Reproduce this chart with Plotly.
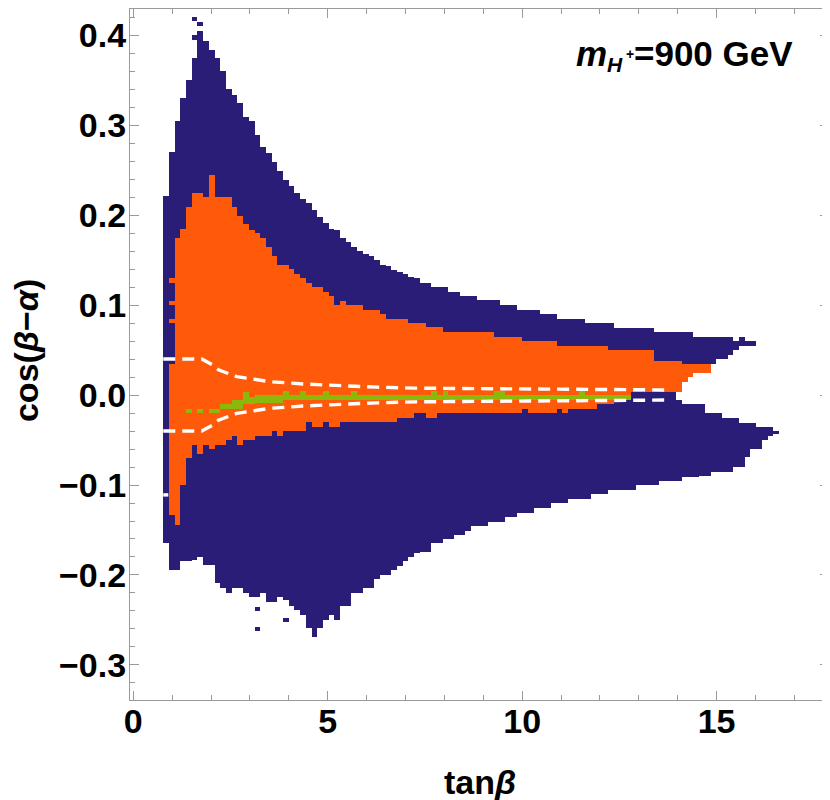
import numpy as np
import plotly.graph_objects as go

# scan grid in tan(beta): regular columns
TANB_FIRST_EDGE = 0.771
TANB_STEP = 0.1466
CELL_H = 0.0047

# navy (all points) envelope per column, 108 columns
NAVY_TOP = [
    0.221, 0.270, 0.305, 0.330, 0.350, 0.375, 0.405, 0.393, 0.383, 0.375,
    0.360, 0.340, 0.333, 0.324, 0.309, 0.304, 0.289, 0.276, 0.269, 0.259,
    0.249, 0.239, 0.232, 0.225, 0.218, 0.213, 0.206, 0.198, 0.191, 0.185,
    0.183, 0.175, 0.170, 0.165, 0.160, 0.157, 0.154, 0.150, 0.145, 0.143,
    0.139, 0.137, 0.134, 0.131, 0.130, 0.125, 0.125, 0.120, 0.120, 0.120,
    0.115, 0.115, 0.110, 0.110, 0.110, 0.106, 0.106, 0.106, 0.106, 0.100,
    0.100, 0.100, 0.095, 0.095, 0.095, 0.095, 0.090, 0.090, 0.090, 0.085,
    0.085, 0.085, 0.085, 0.085, 0.080, 0.080, 0.080, 0.080, 0.080, 0.075,
    0.075, 0.075, 0.075, 0.075, 0.075, 0.075, 0.070, 0.070, 0.070, 0.070,
    0.070, 0.070, 0.070, 0.065, 0.065, 0.065, 0.065, 0.065, 0.065, 0.065,
    0.060, 0.065, 0.060, 0.060, -0.035, -0.035, -0.035, -0.040,
]
NAVY_BOTTOM = [
    -0.165, -0.194, -0.194, -0.185, -0.184, -0.183, -0.180, -0.189, -0.189, -0.209,
    -0.215, -0.220, -0.215, -0.215, -0.220, -0.224, -0.224, -0.220, -0.230, -0.230,
    -0.224, -0.228, -0.235, -0.239, -0.245, -0.259, -0.269, -0.259, -0.250, -0.244,
    -0.250, -0.235, -0.235, -0.220, -0.220, -0.215, -0.215, -0.205, -0.200, -0.200,
    -0.194, -0.190, -0.185, -0.180, -0.176, -0.174, -0.174, -0.165, -0.165, -0.160,
    -0.160, -0.156, -0.156, -0.151, -0.146, -0.146, -0.146, -0.141, -0.141, -0.141,
    -0.136, -0.136, -0.131, -0.131, -0.131, -0.126, -0.126, -0.126, -0.120, -0.120,
    -0.120, -0.116, -0.116, -0.116, -0.116, -0.110, -0.110, -0.110, -0.106, -0.106,
    -0.106, -0.106, -0.106, -0.100, -0.100, -0.100, -0.100, -0.095, -0.095, -0.095,
    -0.095, -0.091, -0.091, -0.091, -0.090, -0.090, -0.085, -0.085, -0.085, -0.085,
    -0.080, -0.080, -0.069, -0.060, -0.060, -0.050, -0.046, -0.043,
]
# empty wedge between the two navy lobes at large tan(beta), columns 90..103
GAP_FIRST_COL = 90
GAP_BOTTOM = [-0.006, -0.010, -0.010, -0.010, -0.010, -0.020, -0.020, -0.020,
              -0.025, -0.025, -0.025, -0.031, -0.031, -0.031]
GAP_TOP = [0.010, 0.014, 0.020, 0.025, 0.030, 0.030, 0.035, 0.040,
           0.040, 0.044, 0.050, 0.055, 0.055, 0.055]
# isolated navy cells (column, lower edge)
NAVY_SPECK_COL = [5, 5, 6, 16, 16, 21]
NAVY_SPECK_Y = [0.395, 0.4155, 0.410, -0.240, -0.262, -0.252]

# orange region, columns 1..95
ORANGE_FIRST_COL = 1
ORANGE_TOP = [
    0.035, 0.174, 0.184, 0.209, 0.225, 0.225, 0.220, 0.244, 0.220,
    0.220, 0.220, 0.209, 0.199, 0.190, 0.183, 0.180, 0.174, 0.165, 0.154,
    0.144, 0.144, 0.140, 0.134, 0.130, 0.125, 0.120, 0.120, 0.115, 0.110,
    0.100, 0.105, 0.100, 0.100, 0.100, 0.095, 0.095, 0.095, 0.090, 0.085,
    0.085, 0.085, 0.085, 0.080, 0.080, 0.080, 0.076, 0.076, 0.076, 0.070,
    0.070, 0.070, 0.070, 0.070, 0.070, 0.070, 0.070, 0.070, 0.065, 0.065,
    0.065, 0.065, 0.065, 0.060, 0.060, 0.060, 0.060, 0.060, 0.060, 0.055,
    0.055, 0.055, 0.055, 0.055, 0.055, 0.055, 0.055, 0.055, 0.050, 0.050,
    0.050, 0.050, 0.050, 0.050, 0.050, 0.050, 0.038, 0.038, 0.038, 0.038,
    0.038, 0.035, 0.035, 0.035, 0.035, 0.035,
]
ORANGE_BOTTOM = [
    -0.133, -0.144, -0.100, -0.070, -0.055, -0.065, -0.055, -0.060, -0.055,
    -0.055, -0.050, -0.046, -0.055, -0.050, -0.050, -0.046, -0.046, -0.046, -0.040,
    -0.046, -0.040, -0.040, -0.040, -0.040, -0.030, -0.035, -0.035, -0.030, -0.035,
    -0.035, -0.030, -0.030, -0.030, -0.030, -0.030, -0.030, -0.030, -0.030, -0.030,
    -0.030, -0.025, -0.025, -0.025, -0.020, -0.020, -0.025, -0.025, -0.020, -0.020,
    -0.020, -0.020, -0.020, -0.020, -0.020, -0.020, -0.020, -0.020, -0.020, -0.020,
    -0.020, -0.020, -0.020, -0.016, -0.020, -0.020, -0.020, -0.020, -0.020, -0.016,
    -0.020, -0.016, -0.016, -0.016, -0.016, -0.016, -0.010, -0.010, -0.010, -0.005,
    -0.005, -0.005, 0.003, 0.003, 0.003, 0.003, 0.003, 0.003, 0.003, 0.003,
    0.003, 0.014, 0.020, 0.025, 0.025, 0.025,
]
ORANGE_SPECK_COL = [1, 1, 1]
ORANGE_SPECK_Y = [0.125, 0.100, 0.080]

# green band, columns 4..81 (None = no green cell)
GREEN_FIRST_COL = 4
GREEN_BOTTOM = [
    -0.020, None, -0.020, None, -0.020, -0.020, -0.016, -0.016, -0.016, -0.016,
    -0.010, -0.010, -0.009, -0.009, -0.009, -0.009, -0.009, -0.006, -0.006, -0.006,
    -0.006, -0.006, -0.006, -0.006, -0.006, -0.006, -0.006, -0.006, -0.006, -0.006,
    -0.005, -0.005, -0.005, -0.005, -0.005, -0.005, -0.005, -0.005, -0.005, -0.005,
    -0.005, -0.005, -0.005, -0.005, -0.005, -0.005, -0.005, -0.005, -0.005, -0.005,
    -0.005, -0.005, -0.005, -0.005, -0.005, -0.005, -0.005, -0.005, -0.005, -0.005,
    -0.005, -0.005, -0.005, -0.005, -0.005, -0.005, -0.005, -0.005, -0.005, -0.005,
    -0.005, -0.005, -0.005, -0.005, -0.005, -0.005, -0.005, -0.005,
]
GREEN_TOP = [
    -0.016, None, -0.016, None, -0.016, -0.016, -0.010, -0.010, -0.006, -0.006,
    0.003, -0.002, 0.000, 0.000, 0.000, 0.000, 0.000, 0.004, 0.000, 0.000,
    0.004, 0.000, 0.000, 0.000, 0.004, 0.000, 0.000, 0.000, 0.000, 0.004,
    0.000, 0.000, 0.000, 0.000, 0.000, 0.000, 0.000, 0.000, 0.000, 0.000,
    0.000, 0.000, 0.000, 0.004, 0.000, 0.004, 0.000, 0.000, 0.000, 0.000,
    0.000, 0.000, 0.000, 0.000, 0.004, 0.004, 0.000, 0.000, 0.000, 0.000,
    0.000, 0.000, 0.000, 0.000, 0.000, 0.000, 0.000, 0.000, 0.000, 0.004,
    0.000, 0.000, 0.000, 0.000, 0.000, 0.000, 0.000, 0.000,
]

# white dashed contours
CURVE_TANB = [0.77, 1.76, 2.06, 2.19, 2.66, 3.52, 4.37, 5.23, 6.26, 7.26, 9.5, 11.5, 13.76]
CURVE_UPPER = [0.040, 0.040, 0.033, 0.028, 0.0204, 0.0148, 0.0122, 0.0104, 0.0087,
               0.0076, 0.0066, 0.0060, 0.0056]
CURVE_LOWER = [-0.040, -0.040, -0.033, -0.028, -0.0204, -0.0148, -0.0122, -0.0104,
               -0.0087, -0.0076, -0.0066, -0.0060, -0.0056]
STUB_TANB = [0.77, 0.90]
STUB_Y = [-0.111, -0.111]

NAVY = "#291d78"
ORANGE = "#ff5a0a"
GREEN = "#8cb80c"
FRAME = "#9a9a9a"
FONT = "Liberation Sans, Arial, sans-serif"


def col_center(i):
    return TANB_FIRST_EDGE + TANB_STEP * (i + 0.5)


def cell_bars(cols, lows, highs, color):
    xs, bases, hs = [], [], []
    for c, lo, hi in zip(cols, lows, highs):
        if lo is None or hi is None:
            continue
        xs.append(col_center(c))
        bases.append(lo)
        hs.append(hi - lo)
    return go.Bar(x=xs, y=hs, base=bases, width=TANB_STEP,
                  marker=dict(color=color, line=dict(width=0)),
                  hoverinfo="skip")


fig = go.Figure()

n = len(NAVY_TOP)
fig.add_trace(cell_bars(range(n), NAVY_BOTTOM, NAVY_TOP, NAVY))
fig.add_trace(cell_bars(NAVY_SPECK_COL, NAVY_SPECK_Y,
                        [y + CELL_H for y in NAVY_SPECK_Y], NAVY))
gap_cols = range(GAP_FIRST_COL, GAP_FIRST_COL + len(GAP_TOP))
fig.add_trace(cell_bars(gap_cols, GAP_BOTTOM, GAP_TOP, "white"))

or_cols = range(ORANGE_FIRST_COL, ORANGE_FIRST_COL + len(ORANGE_TOP))
fig.add_trace(cell_bars(or_cols, ORANGE_BOTTOM, ORANGE_TOP, ORANGE))
fig.add_trace(cell_bars(ORANGE_SPECK_COL, ORANGE_SPECK_Y,
                        [y + CELL_H for y in ORANGE_SPECK_Y], ORANGE))

gr_cols = range(GREEN_FIRST_COL, GREEN_FIRST_COL + len(GREEN_TOP))
fig.add_trace(cell_bars(gr_cols, GREEN_BOTTOM, GREEN_TOP, GREEN))

for ys in (CURVE_UPPER, CURVE_LOWER):
    fig.add_trace(go.Scatter(x=CURVE_TANB, y=ys, mode="lines",
                             line=dict(color="white", width=3.4, dash="12px,7px"),
                             hoverinfo="skip"))
fig.add_trace(go.Scatter(x=STUB_TANB, y=STUB_Y, mode="lines",
                         line=dict(color="white", width=3.4), hoverinfo="skip"))

tick_font = dict(family=FONT, size=34, color="black", weight="bold")
axis_common = dict(
    showline=True, linecolor=FRAME, linewidth=1.3, mirror="ticks",
    ticks="inside", ticklen=9, tickwidth=1.2, tickcolor=FRAME,
    showgrid=False, zeroline=False, tickfont=tick_font,
)

# the page body adds an 8px offset, so the plot box is placed 8px up/left
fig.update_layout(
    width=830, height=800,
    margin=dict(l=122, r=9, t=1, b=108),
    plot_bgcolor="white", paper_bgcolor="white",
    barmode="overlay", bargap=0, showlegend=False,
    xaxis=dict(range=[-0.085, 17.89], tick0=0, dtick=5, ticklabelstandoff=-9,
               minor=dict(dtick=1, ticks="inside", ticklen=5, tickcolor=FRAME, tickwidth=1.1),
               **axis_common),
    yaxis=dict(range=[-0.3389, 0.4289], tick0=0, dtick=0.1, tickformat=".1f",
               ticklabelstandoff=-4,
               minor=dict(dtick=0.02, ticks="inside", ticklen=5, tickcolor=FRAME, tickwidth=1.1),
               **axis_common),
)

title_font = dict(family=FONT, size=34, color="black", weight="bold")
fig.add_annotation(text="tan<i>β</i>", xref="paper", yref="paper", x=0.5007, y=0,
                   yanchor="middle", yshift=-82, showarrow=False, font=title_font)
fig.add_annotation(text="cos(<i>β</i>−<i>α</i>)", xref="paper", yref="paper", x=0, y=0.505,
                   xanchor="center", xshift=-104, textangle=-90, showarrow=False,
                   font=title_font)

label_font = dict(family=FONT, size=35, color="black", weight="bold")
fig.add_annotation(text="<i>m</i>", xref="paper", yref="paper", x=0.6352, y=0.935,
                   xanchor="left", yanchor="middle", showarrow=False, font=label_font)
fig.add_annotation(text="<i>H</i>", xref="paper", yref="paper", x=0.6795, y=0.9197,
                   xanchor="left", yanchor="middle", showarrow=False,
                   font=dict(family=FONT, size=21, color="black", weight="bold"))
fig.add_annotation(text="+", xref="paper", yref="paper", x=0.7067, y=0.935,
                   xanchor="left", yanchor="middle", showarrow=False,
                   font=dict(family=FONT, size=14, color="black", weight="bold"))
fig.add_annotation(text="=900 GeV", xref="paper", yref="paper", x=0.9514, y=0.935,
                   xanchor="right", yanchor="middle", showarrow=False, font=label_font)

fig.write_html("out.html")
